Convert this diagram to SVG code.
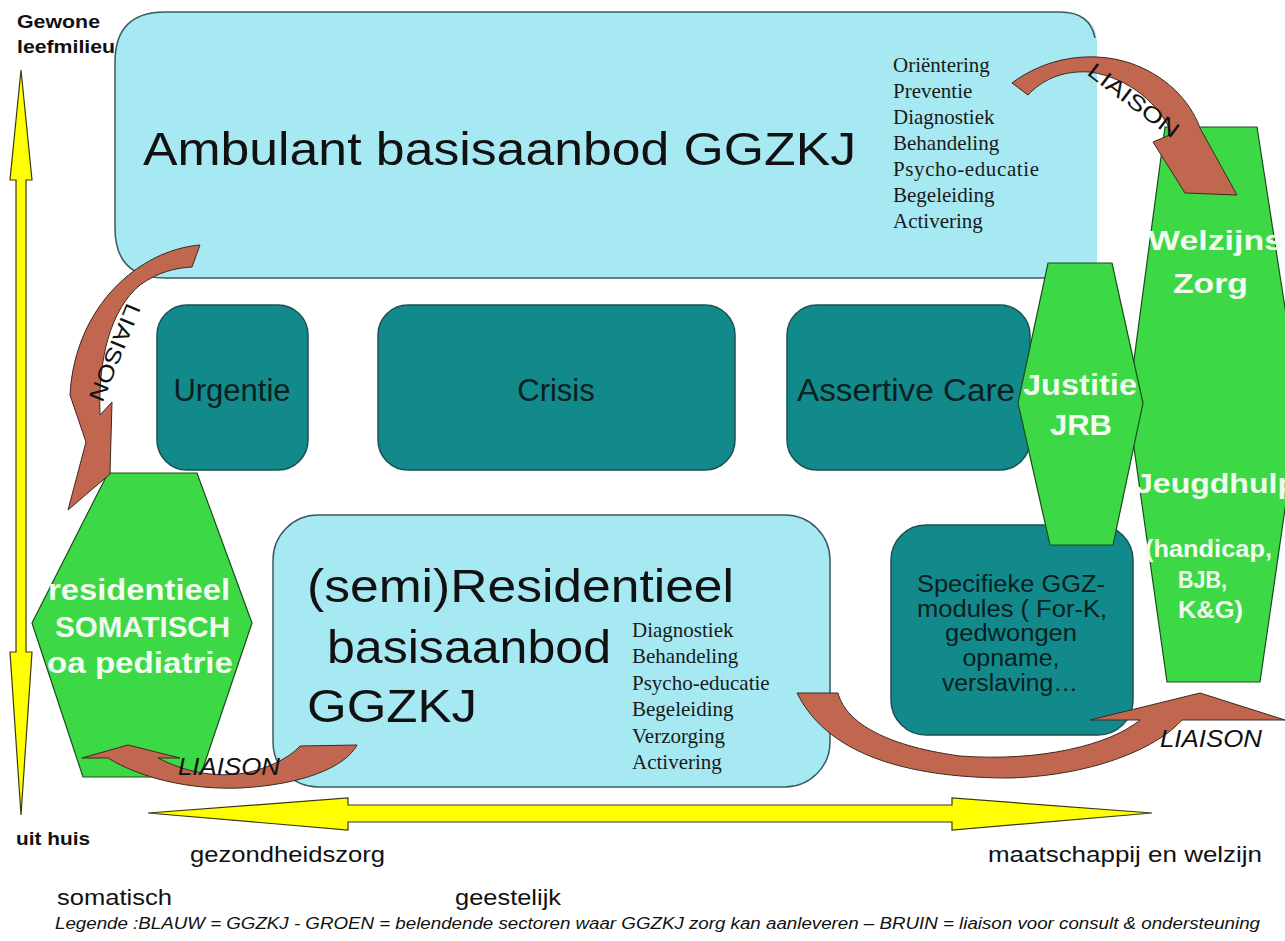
<svg xmlns="http://www.w3.org/2000/svg" width="1285" height="941" viewBox="0 0 1285 941">
<style>
.lb{fill:#A6E9F3;stroke:#3A5A60;stroke-width:1.5}
.tl{fill:#128A8C;stroke:#1F4F50;stroke-width:1.5}
.gr{fill:#3CD846;stroke:#1A4D1A;stroke-width:1.2}
.br{fill:#C2674F;stroke:#3A2A20;stroke-width:1}
.yl{fill:#FFFF00;stroke:#3A3A10;stroke-width:1.2}
.s{font-family:"Liberation Sans",Arial,sans-serif}
.sf{font-family:"Liberation Serif","Times New Roman",serif;font-size:21px;fill:#1a1a1a}
.wt{font-family:"Liberation Sans",Arial,sans-serif;font-weight:bold;fill:#F2FBEF}
.dk{font-family:"Liberation Sans",Arial,sans-serif;fill:#0A2020}
.bk{font-family:"Liberation Sans",Arial,sans-serif;fill:#111}
</style>
<rect width="1285" height="941" fill="#fff"/>
<g id="axes">
<polygon class="yl" points="21,70 32,180 26,180 26,652 32,652 21,815 10,652 16,652 16,180 10,180"/>
<polygon class="yl" points="148,813 348,798 348,805 952,805 952,798 1152,813 952,830 952,822 348,822 348,830"/>
</g>
<g id="ambulant">
<path d="M165 12 H1060 Q1094 12 1097 40 V278 H165 Q115 278 115 228 V62 Q115 12 165 12 Z" fill="#A6E9F3"/>
<path d="M1097 278 H165 Q115 278 115 228 V62 Q115 12 165 12 H1060 Q1090 12 1095 38" fill="none" stroke="#3A5A60" stroke-width="1.5"/>
<text class="bk" x="143" y="165" font-size="46" textLength="713" lengthAdjust="spacingAndGlyphs">Ambulant basisaanbod GGZKJ</text>
<text class="sf" x="893" y="72">Oriëntering</text>
<text class="sf" x="893" y="98">Preventie</text>
<text class="sf" x="893" y="124">Diagnostiek</text>
<text class="sf" x="893" y="150">Behandeling</text>
<text class="sf" x="893" y="176" textLength="146">Psycho-educatie</text>
<text class="sf" x="893" y="202">Begeleiding</text>
<text class="sf" x="893" y="228">Activering</text>
</g>
<g id="urgentie">
<rect class="tl" x="157" y="305" width="151" height="165" rx="30"/>
<text class="dk" x="232" y="401" font-size="31" text-anchor="middle">Urgentie</text>
</g>
<g id="crisis">
<rect class="tl" x="378" y="305" width="357" height="165" rx="30"/>
<text class="dk" x="556" y="401" font-size="31" text-anchor="middle">Crisis</text>
</g>
<g id="assertive">
<rect class="tl" x="787" y="305" width="243" height="165" rx="30"/>
<text class="dk" x="797" y="401" font-size="31" textLength="218" lengthAdjust="spacingAndGlyphs">Assertive Care</text>
</g>
<g id="specifieke">
<rect class="tl" x="891" y="525" width="242" height="210" rx="35"/>
<text class="dk" x="1011" y="592" font-size="23" text-anchor="middle" textLength="188" lengthAdjust="spacingAndGlyphs">Specifieke GGZ-</text>
<text class="dk" x="1012" y="617" font-size="23" text-anchor="middle" textLength="190" lengthAdjust="spacingAndGlyphs">modules ( For-K,</text>
<text class="dk" x="1011" y="641" font-size="23" text-anchor="middle" textLength="132" lengthAdjust="spacingAndGlyphs">gedwongen</text>
<text class="dk" x="1011" y="666" font-size="23" text-anchor="middle" textLength="97" lengthAdjust="spacingAndGlyphs">opname,</text>
<text class="dk" x="1010" y="691" font-size="23" text-anchor="middle" textLength="136" lengthAdjust="spacingAndGlyphs">verslaving…</text>
</g>
<g id="semi">
<rect class="lb" x="273" y="515" width="557" height="272" rx="45"/>
<text class="bk" x="307" y="602" font-size="46" textLength="427" lengthAdjust="spacingAndGlyphs">(semi)Residentieel</text>
<text class="bk" x="327" y="663" font-size="46" textLength="284" lengthAdjust="spacingAndGlyphs">basisaanbod</text>
<text class="bk" x="307" y="722" font-size="46" textLength="170" lengthAdjust="spacingAndGlyphs">GGZKJ</text>
<text class="sf" x="632" y="637">Diagnostiek</text>
<text class="sf" x="632" y="663">Behandeling</text>
<text class="sf" x="632" y="690">Psycho-educatie</text>
<text class="sf" x="632" y="716">Begeleiding</text>
<text class="sf" x="632" y="743">Verzorging</text>
<text class="sf" x="632" y="769">Activering</text>
</g>
<g id="somatisch">
<polygon class="gr" points="108,473 197,473 252,623 200,777 83,777 32,623"/>
<text class="wt" x="48" y="600" font-size="30" textLength="182" lengthAdjust="spacingAndGlyphs">residentieel</text>
<text class="wt" x="55" y="637" font-size="30" textLength="175" lengthAdjust="spacingAndGlyphs">SOMATISCH</text>
<text class="wt" x="47" y="673" font-size="30" textLength="186" lengthAdjust="spacingAndGlyphs">oa pediatrie</text>
</g>
<g id="welzijn">
<polygon class="gr" points="1165,127 1257,127 1300,405 1260,682 1167,682 1128,405"/>
<text class="wt" x="1148" y="250" font-size="27" textLength="135" lengthAdjust="spacingAndGlyphs">Welzijns</text>
<text class="wt" x="1173" y="293" font-size="27" textLength="75" lengthAdjust="spacingAndGlyphs">Zorg</text>
<text class="wt" x="1135" y="493" font-size="28" textLength="162" lengthAdjust="spacingAndGlyphs">Jeugdhulp</text>
<text class="wt" x="1145" y="557" font-size="23" textLength="127" lengthAdjust="spacingAndGlyphs">(handicap,</text>
<text class="wt" x="1178" y="588" font-size="23" textLength="49" lengthAdjust="spacingAndGlyphs">BJB,</text>
<text class="wt" x="1178" y="618" font-size="23" textLength="65" lengthAdjust="spacingAndGlyphs">K&amp;G)</text>
</g>
<g id="justitie">
<polygon class="gr" points="1048,263 1112,263 1143,403 1113,545 1050,545 1018,403"/>
<text class="wt" x="1080" y="395" font-size="30" text-anchor="middle" textLength="114" lengthAdjust="spacingAndGlyphs">Justitie</text>
<text class="wt" x="1081" y="435" font-size="30" text-anchor="middle" textLength="62" lengthAdjust="spacingAndGlyphs">JRB</text>
</g>
<g id="connectors">
<path class="br" d="M200 245 C140 250 75 305 70 395 L86 442 L68 510 L110 474 L112 402 L100 415 C98 360 110 310 140 285 C158 272 175 268 192 267 Z"/>
<path class="br" d="M1012 83 C1045 58 1090 50 1130 63 C1165 75 1190 100 1200 128 L1237 195 L1185 193 L1153 142 L1172 134 C1160 105 1130 78 1090 72 C1060 70 1040 82 1028 95 Z"/>
<path class="br" d="M82 758 L128 745 L180 758 L158 758 C185 772 215 778 245 773 C270 768 290 757 300 746 L357 745 C345 768 300 785 240 788 C190 790 140 778 108 758 Z"/>
<path class="br" d="M797 693 L838 693 C845 720 880 745 960 756 C1040 762 1110 745 1140 720 L1090 720 L1200 693 L1285 720 L1182 720 C1160 745 1100 775 1010 778 C920 778 830 760 797 693 Z"/>
<text class="bk" font-size="22" transform="translate(127,302) rotate(112)" textLength="103" lengthAdjust="spacingAndGlyphs">LIAISON</text>
<text class="bk" font-size="22" transform="translate(1086,74) rotate(37)" textLength="108" lengthAdjust="spacingAndGlyphs">LIAISON</text>
<text class="bk" font-size="23" font-style="italic" x="178" y="775" textLength="102" lengthAdjust="spacingAndGlyphs">LIAISON</text>
<text class="bk" font-size="23" font-style="italic" x="1160" y="747" textLength="102" lengthAdjust="spacingAndGlyphs">LIAISON</text>
</g>
<g id="labels">
<text class="bk" x="17" y="28" font-size="18" font-weight="bold" textLength="83" lengthAdjust="spacingAndGlyphs">Gewone</text>
<text class="bk" x="17" y="53" font-size="18" font-weight="bold" textLength="98" lengthAdjust="spacingAndGlyphs">leefmilieu</text>
<text class="bk" x="16" y="845" font-size="18" font-weight="bold" textLength="74" lengthAdjust="spacingAndGlyphs">uit huis</text>
<text class="bk" x="190" y="862" font-size="22" textLength="195" lengthAdjust="spacingAndGlyphs">gezondheidszorg</text>
<text class="bk" x="988" y="862" font-size="22" textLength="274" lengthAdjust="spacingAndGlyphs">maatschappij en welzijn</text>
<text class="bk" x="57" y="905" font-size="22" textLength="115" lengthAdjust="spacingAndGlyphs">somatisch</text>
<text class="bk" x="455" y="905" font-size="22" textLength="106" lengthAdjust="spacingAndGlyphs">geestelijk</text>
<text class="bk" x="55" y="929" font-size="16" font-style="italic" textLength="1205" lengthAdjust="spacingAndGlyphs">Legende :BLAUW = GGZKJ - GROEN = belendende sectoren waar GGZKJ zorg kan aanleveren – BRUIN = liaison voor consult &amp; ondersteuning</text>
</g>
</svg>
